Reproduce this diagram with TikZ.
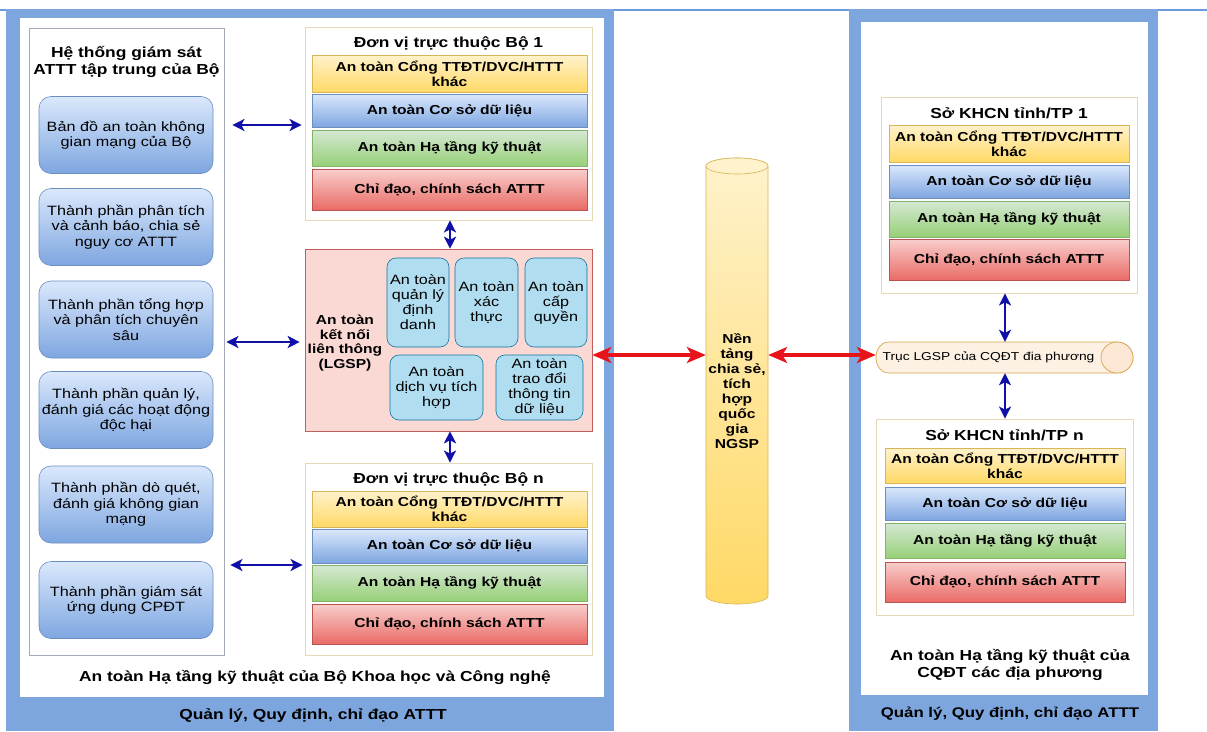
\documentclass[tikz,border=0pt]{standalone}
\usepackage{fontspec}
\setmainfont{Liberation Sans}[FakeStretch=1.2]
\usetikzlibrary{arrows.meta}

\definecolor{panelblue}{HTML}{7EA6DE}
\definecolor{topline}{HTML}{6A9BDA}
\definecolor{yelTop}{HTML}{FFF2CC}\definecolor{yelBot}{HTML}{FFD966}\definecolor{yelLine}{HTML}{D6B656}
\definecolor{bluTop}{HTML}{DAE8FC}\definecolor{bluBot}{HTML}{7EA6E0}\definecolor{bluLine}{HTML}{6C8EBF}
\definecolor{grnTop}{HTML}{D5E8D4}\definecolor{grnBot}{HTML}{97D077}\definecolor{grnLine}{HTML}{82B366}
\definecolor{redTop}{HTML}{F8CECC}\definecolor{redBot}{HTML}{EA6B66}\definecolor{redLine}{HTML}{B85450}
\definecolor{pinkFill}{HTML}{FAD9D5}\definecolor{pinkLine}{HTML}{C0605A}
\definecolor{subFill}{HTML}{B1DDF0}\definecolor{subLine}{HTML}{10739E}
\definecolor{unitLine}{HTML}{E6D9B8}
\definecolor{colLine}{HTML}{A3ACB6}
\definecolor{capFill}{HTML}{FDF1E4}\definecolor{capEnd}{HTML}{FCE8D4}\definecolor{capLine}{HTML}{D6A54E}
\definecolor{arrBlue}{HTML}{1010A8}
\definecolor{arrRed}{HTML}{E8141C}

\newcommand\stripefont{\bfseries\fontsize{13}{15}\selectfont}
\newcommand\titlefont{\bfseries\fontsize{14.5}{17}\selectfont}
\newcommand\boxfont{\fontsize{13.5}{15.5}\selectfont}
\newcommand\subfont{\fontsize{13.5}{15}\selectfont}

\tikzset{
  stripe/.style={inner sep=0pt, align=center, font=\stripefont, line width=0.6pt},
  ystripe/.style={stripe, top color=yelTop, bottom color=yelBot, draw=yelLine},
  bstripe/.style={stripe, top color=bluTop, bottom color=bluBot, draw=bluLine},
  gstripe/.style={stripe, top color=grnTop, bottom color=grnBot, draw=grnLine},
  rstripe/.style={stripe, top color=redTop, bottom color=redBot, draw=redLine},
  unitbox/.style={draw=unitLine, fill=white, line width=0.8pt, inner sep=0pt},
  unittitle/.style={font=\titlefont, inner sep=0pt},
  colbox/.style={draw=colLine, fill=white, line width=0.8pt, inner sep=0pt},
  compbox/.style={rounded corners=12pt, top color=bluTop, bottom color=bluBot, draw=bluLine,
    line width=0.6pt, minimum width=174pt, minimum height=77pt, inner sep=0pt,
    align=center, font=\boxfont},
  subbox/.style={rounded corners=9pt, fill=subFill, draw=subLine, line width=0.6pt,
    inner sep=0pt, align=center, font=\subfont, minimum height=89pt},
  bhead/.style={Stealth[length=12pt,width=12pt,inset=3pt]},
  rhead/.style={Stealth[length=19pt,width=16pt,inset=5pt]},
  barrow/.style={draw=arrBlue, line width=2.8pt, {Stealth[length=12pt,width=12pt,inset=3pt]}-{Stealth[length=12pt,width=12pt,inset=3pt]}},
  rarrow/.style={draw=arrRed, line width=3.2pt, {Stealth[length=19pt,width=16pt,inset=5pt]}-{Stealth[length=19pt,width=16pt,inset=5pt]}},
  bandtext/.style={font=\titlefont, inner sep=0pt, align=center}
}

\begin{document}
\begin{tikzpicture}[x=1pt,y=-1pt]
\useasboundingbox (0,0) rectangle (1207,731);
\fill[white] (0,0) rectangle (1207,731);

% top rule and the two blue panels
\draw[topline, line width=2pt] (0,10) -- (1207,10);
\fill[panelblue] (6,9) rectangle (614,731);
\fill[white] (20,18) rectangle (604,697);
\fill[panelblue] (849,9) rectangle (1158,731);
\fill[white] (861,22) rectangle (1148,695);

% ---------- left panel: monitoring column ----------
\node[colbox, minimum width=195pt, minimum height=627pt] (col) at (126.5,341.5) {};
\node[bandtext] (coltitle) at (126.5,62) {Hệ thống giám sát\\ATTT tập trung của Bộ};
\node[compbox] (b1) at (126,135) {Bản đồ an toàn không\\gian mạng của Bộ};
\node[compbox] (b2) at (126,227) {Thành phần phân tích\\và cảnh báo, chia sẻ\\nguy cơ ATTT};
\node[compbox] (b3) at (126,319.5) {Thành phần tổng hợp\\và phân tích chuyên\\sâu};
\node[compbox] (b4) at (126,410) {Thành phần quản lý,\\đánh giá các hoạt động\\độc hại};
\node[compbox] (b5) at (126,504.5) {Thành phần dò quét,\\đánh giá không gian\\mạng};
\node[compbox] (b6) at (126,600) {Thành phần giám sát\\ứng dụng CPĐT};

% ---------- unit 1 ----------
\node[unitbox, minimum width=287pt, minimum height=193pt] (unit1) at (448.5,123.5) {};
\node[unittitle] (unit1t) at (448.5,43) {Đơn vị trực thuộc Bộ 1};
\node[ystripe, minimum width=275pt, minimum height=37pt] (u1y) at (449.5,73.5) {An toàn Cổng TTĐT/DVC/HTTT\\khác};
\node[bstripe, minimum width=275pt, minimum height=33pt] (u1b) at (449.5,110.5) {An toàn Cơ sở dữ liệu};
\node[gstripe, minimum width=275pt, minimum height=36pt] (u1g) at (449.5,148) {An toàn Hạ tầng kỹ thuật};
\node[rstripe, minimum width=275pt, minimum height=41pt] (u1r) at (449.5,189.5) {Chỉ đạo, chính sách ATTT};

% ---------- LGSP block ----------
\node[draw=pinkLine, fill=pinkFill, line width=0.6pt, minimum width=287pt, minimum height=182pt, inner sep=0pt] (pink) at (448.5,340) {};
\node[font=\bfseries\fontsize{13}{14.6}\selectfont, align=center, inner sep=0pt] (pinkt) at (345,343) {An toàn\\kết nối\\liên thông\\(LGSP)};
\node[subbox, minimum width=62pt] (s1) at (418,302.5) {An toàn\\quản lý\\định\\danh};
\node[subbox, minimum width=63pt] (s2) at (486.5,302.5) {An toàn\\xác\\thực};
\node[subbox, minimum width=62pt] (s3) at (556,302.5) {An toàn\\cấp\\quyền};
\node[subbox, minimum width=93pt, minimum height=65pt] (s4) at (436.5,387.5) {An toàn\\dịch vụ tích\\hợp};
\node[subbox, minimum width=87pt, minimum height=65pt] (s5) at (539.5,387.5) {An toàn\\trao đổi\\thông tin\\dữ liệu};

% ---------- unit n ----------
\node[unitbox, minimum width=287pt, minimum height=192pt] (unitn) at (448.5,559) {};
\node[unittitle] (unitnt) at (448.5,479) {Đơn vị trực thuộc Bộ n};
\node[ystripe, minimum width=275pt, minimum height=36pt] (uny) at (449.5,509) {An toàn Cổng TTĐT/DVC/HTTT\\khác};
\node[bstripe, minimum width=275pt, minimum height=34pt] (unb) at (449.5,546) {An toàn Cơ sở dữ liệu};
\node[gstripe, minimum width=275pt, minimum height=36pt] (ung) at (449.5,583) {An toàn Hạ tầng kỹ thuật};
\node[rstripe, minimum width=275pt, minimum height=40pt] (unr) at (449.5,624) {Chỉ đạo, chính sách ATTT};

\node[bandtext] (lefttitle) at (315,677) {An toàn Hạ tầng kỹ thuật của Bộ Khoa học và Công nghệ};
\node[bandtext] (leftband) at (313,716) {Quản lý, Quy định, chỉ đạo ATTT};

% ---------- national platform (cylinder) ----------
\path[top color=yelTop, bottom color=yelBot, draw=yelLine, line width=0.6pt]
  (706,166) -- (706,596) arc[start angle=180, end angle=0, x radius=31, y radius=8]
  -- (768,166) arc[start angle=0, end angle=-180, x radius=31, y radius=8] -- cycle;
\draw[yelLine, fill=yelTop, line width=0.6pt] (737,166) ellipse[x radius=31, y radius=8];
\node[font=\bfseries\fontsize{13}{15}\selectfont, align=center, inner sep=0pt,
      minimum width=62pt, minimum height=400pt] (ngsp) at (737,391)
  {Nền\\tảng\\chia sẻ,\\tích\\hợp\\quốc\\gia\\NGSP};

% ---------- right panel ----------
\node[unitbox, minimum width=256pt, minimum height=196pt] (khcn1) at (1009,195) {};
\node[unittitle] (khcn1t) at (1009,113) {Sở KHCN tỉnh/TP 1};
\node[ystripe, minimum width=240pt, minimum height=37pt] (k1y) at (1009,143.5) {An toàn Cổng TTĐT/DVC/HTTT\\khác};
\node[bstripe, minimum width=240pt, minimum height=33pt] (k1b) at (1009,181.5) {An toàn Cơ sở dữ liệu};
\node[gstripe, minimum width=240pt, minimum height=36pt] (k1g) at (1009,219) {An toàn Hạ tầng kỹ thuật};
\node[rstripe, minimum width=240pt, minimum height=41pt] (k1r) at (1009,259.5) {Chỉ đạo, chính sách ATTT};

% local LGSP bus (horizontal cylinder)
\path[fill=capFill, draw=capLine, line width=0.7pt]
  (1117,342) -- (888,342) arc[start angle=-90, end angle=-270, x radius=12, y radius=15.5]
  -- (1117,373) arc[start angle=90, end angle=-90, x radius=16, y radius=15.5] -- cycle;
\draw[capLine, fill=capEnd, line width=0.7pt] (1117,357.5) ellipse[x radius=16, y radius=15.5];
\node[font=\fontsize{11.5}{13}\selectfont, inner sep=0pt, minimum width=225pt, minimum height=31pt]
  (lgsp) at (988.5,357.5) {Trục LGSP của CQĐT đia phương};

\node[unitbox, minimum width=257pt, minimum height=196pt] (khcnn) at (1004.5,517) {};
\node[unittitle] (khcnnt) at (1004.5,435) {Sở KHCN tỉnh/TP n};
\node[ystripe, minimum width=240pt, minimum height=35pt] (kny) at (1005,465.5) {An toàn Cổng TTĐT/DVC/HTTT\\khác};
\node[bstripe, minimum width=240pt, minimum height=33pt] (knb) at (1005,503.5) {An toàn Cơ sở dữ liệu};
\node[gstripe, minimum width=240pt, minimum height=35pt] (kng) at (1005,540.5) {An toàn Hạ tầng kỹ thuật};
\node[rstripe, minimum width=240pt, minimum height=40pt] (knr) at (1005,582) {Chỉ đạo, chính sách ATTT};

\node[bandtext] (righttitle) at (1010,665) {An toàn Hạ tầng kỹ thuật của\\CQĐT các địa phương};
\node[bandtext, font=\bfseries\fontsize{14}{16}\selectfont] (rightband) at (1010,714) {Quản lý, Quy định, chỉ đạo ATTT};

% ---------- connectors ----------
\coordinate (row1) at (0,125);
\coordinate (row2) at (0,342);
\coordinate (row3) at (0,565);
\coordinate (redrow) at (0,355);
\coordinate (lx) at (450,0);
\coordinate (rx) at (1005,0);

\draw[barrow, shorten <=8pt, shorten >=3pt] (col.east |- row1) -- (unit1.west |- row1);
\draw[barrow, shorten <=2pt, shorten >=5pt] (col.east |- row2) -- (pink.west |- row2);
\draw[barrow, shorten <=6pt, shorten >=2pt] (col.east |- row3) -- (unitn.west |- row3);

\draw[barrow] (unit1.south -| lx) -- (pink.north -| lx);
\draw[barrow] (pink.south -| lx) -- (unitn.north -| lx);

\draw[rarrow] (pink.east |- redrow) -- (ngsp.west |- redrow);
\draw[rarrow] (ngsp.east |- redrow) -- (lgsp.west |- redrow);

\draw[barrow] (khcn1.south -| rx) -- (lgsp.north -| rx);
\draw[barrow] (lgsp.south -| rx) -- (khcnn.north -| rx);
\end{tikzpicture}
\end{document}
